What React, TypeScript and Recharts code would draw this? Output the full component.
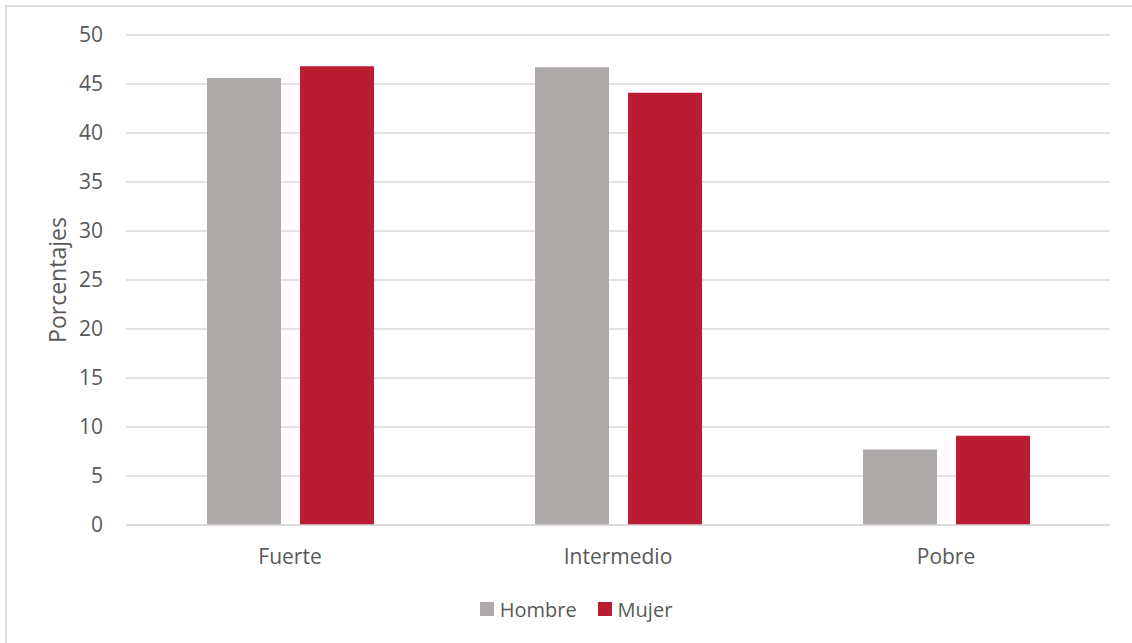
import React from 'react';
import { BarChart, Bar, XAxis, YAxis, CartesianGrid, Legend, Label } from 'recharts';

// Categories and series values (percentages)
const categories = ['Fuerte', 'Intermedio', 'Pobre'];
const hombreValues = [45.6, 46.7, 7.7];
const mujerValues = [46.8, 44.1, 9.1];
const yTicks = [0, 5, 10, 15, 20, 25, 30, 35, 40, 45, 50];

const seriesNames = { hombre: 'Hombre', mujer: 'Mujer' };
const colors = { hombre: '#AEAAAA', mujer: '#BA1C31' };

const data = categories.map((name, i) => ({
  name,
  hombre: hombreValues[i],
  mujer: mujerValues[i],
}));

const FONT = '"Open Sans", "Noto Sans", sans-serif';
const TEXT = '#595959';

const LegendContent = (props: any) => {
  const items = props.payload || [];
  return (
    <div
      style={{
        display: 'flex',
        justifyContent: 'center',
        alignItems: 'center',
        height: 30,
        paddingLeft: 20,
        fontFamily: FONT,
        fontSize: 20,
        color: TEXT,
      }}
    >
      {items.map((it: any, idx: number) => (
        <div
          key={it.value}
          style={{ display: 'flex', alignItems: 'center', marginLeft: idx === 0 ? 0 : 21 }}
        >
          <span
            style={{ width: 14, height: 14, background: it.color, display: 'inline-block', marginRight: 6 }}
          />
          <span>{it.value}</span>
        </div>
      ))}
    </div>
  );
};

export default function App() {
  return (
    <div style={{ position: 'absolute', left: 0, top: 0, width: 1132, height: 643, background: '#fff' }}>
      <div
        style={{
          position: 'absolute',
          left: 5,
          top: 5,
          width: 1127,
          height: 638,
          borderLeft: '2px solid #dcdcdc',
          borderTop: '2px solid #dcdcdc',
          boxSizing: 'border-box',
        }}
      />
      <BarChart
        width={1132}
        height={643}
        data={data}
        margin={{ top: 35, right: 22, bottom: 19, left: 0 }}
        barSize={74}
        barGap={19}
        style={{ position: 'absolute', left: 0, top: 0 }}
      >
        <CartesianGrid vertical={false} stroke="#d9d9d9" strokeWidth={1.5} />
        <XAxis
          dataKey="name"
          height={69}
          axisLine={{ stroke: '#d9d9d9', strokeWidth: 1.5 }}
          tickLine={false}
          tickMargin={18}
          tick={{ fill: TEXT, fontSize: 21, fontFamily: FONT }}
        />
        <YAxis
          width={126}
          domain={[0, 50]}
          ticks={yTicks}
          axisLine={false}
          tickLine={false}
          tickMargin={17}
          tick={{ fill: TEXT, fontSize: 21, fontFamily: FONT }}
        >
          <Label
            content={(p: any) => {
              const vb = p.viewBox || {};
              const cy = vb.y + vb.height / 2;
              return (
                <text
                  x={57}
                  y={cy}
                  transform={`rotate(-90, 57, ${cy})`}
                  textAnchor="middle"
                  dominantBaseline="central"
                  fill={TEXT}
                  fontSize={23}
                  fontFamily={FONT}
                >
                  Porcentajes
                </text>
              );
            }}
          />
        </YAxis>
        <Legend
          verticalAlign="bottom"
          wrapperStyle={{ left: 0, width: 1132, height: 30 }}
          content={<LegendContent />}
        />
        <Bar dataKey="hombre" name={seriesNames.hombre} fill={colors.hombre} isAnimationActive={false} />
        <Bar dataKey="mujer" name={seriesNames.mujer} fill={colors.mujer} isAnimationActive={false} />
      </BarChart>
    </div>
  );
}
